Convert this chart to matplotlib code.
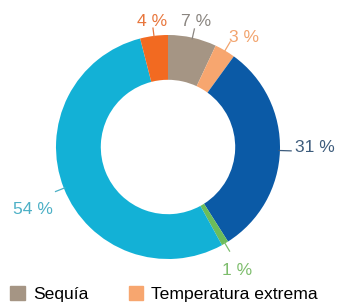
import numpy as np
import matplotlib
matplotlib.use('Agg')
import matplotlib.pyplot as plt
from matplotlib.patches import Patch

plt.rcParams['font.family'] = ['Liberation Sans', 'DejaVu Sans']

values = [7, 3, 31, 1, 54, 4]
labels = ['7 %', '3 %', '31 %', '1 %', '54 %', '4 %']
colors = ['#a59584', '#f7a66f', '#0b5aa6', '#6cbd5a', '#13b1d6', '#f26a21']
label_colors = ['#8a8580', '#f2a46e', '#3d5c7c', '#7dbd6c', '#4cb0c6', '#e8763c']
legend_names = ['Sequía', 'Temperatura extrema']

fig = plt.figure(figsize=(3.39, 3.03), dpi=100)
ax = fig.add_axes([0, 0, 1, 1])
R = 112.0
cx, cy = 168, 147
ax.pie(values, colors=colors, startangle=90, counterclock=False,
       radius=1, wedgeprops=dict(width=0.4, edgecolor='none'))
ax.set_aspect('auto')
ax.set_xlim(-cx / R, (339 - cx) / R)
ax.set_ylim(-(303 - cy) / R, cy / R)
ax.axis('off')

# leader end radius, text radius, angle shift (deg)
line_end = [1.08, 1.09, 1.1, 1.08, 1.08, 1.07]
text_r = [1.15, 1.19, 1.31, 1.26, 1.33, 1.125]
shift = [0, -4, 1.5, -1.3, 3, 0]
cum = 0
for v, lab, c, le, tr, sh in zip(values, labels, label_colors, line_end, text_r, shift):
    mid = np.deg2rad(90 - (cum + v / 2) * 3.6)
    cum += v
    x0, y0 = np.cos(mid), np.sin(mid)
    ax.plot([x0 * 0.99, x0 * le], [y0 * 0.99, y0 * le], color=c, lw=0.9)
    ang = mid + np.deg2rad(sh)
    ax.text(np.cos(ang) * tr, np.sin(ang) * tr, lab, color=c, fontsize=12.6,
            ha='center', va='center')

handles = [Patch(color=colors[0]), Patch(color=colors[1])]
fig.legend(handles, legend_names, loc='lower left', bbox_to_anchor=(0.03, 0.004),
           ncol=2, frameon=False, fontsize=12.6, handlelength=0.85, handleheight=0.85,
           handletextpad=0.45, columnspacing=2.3, borderpad=0, borderaxespad=0)

fig.savefig('out.png', dpi=100)
